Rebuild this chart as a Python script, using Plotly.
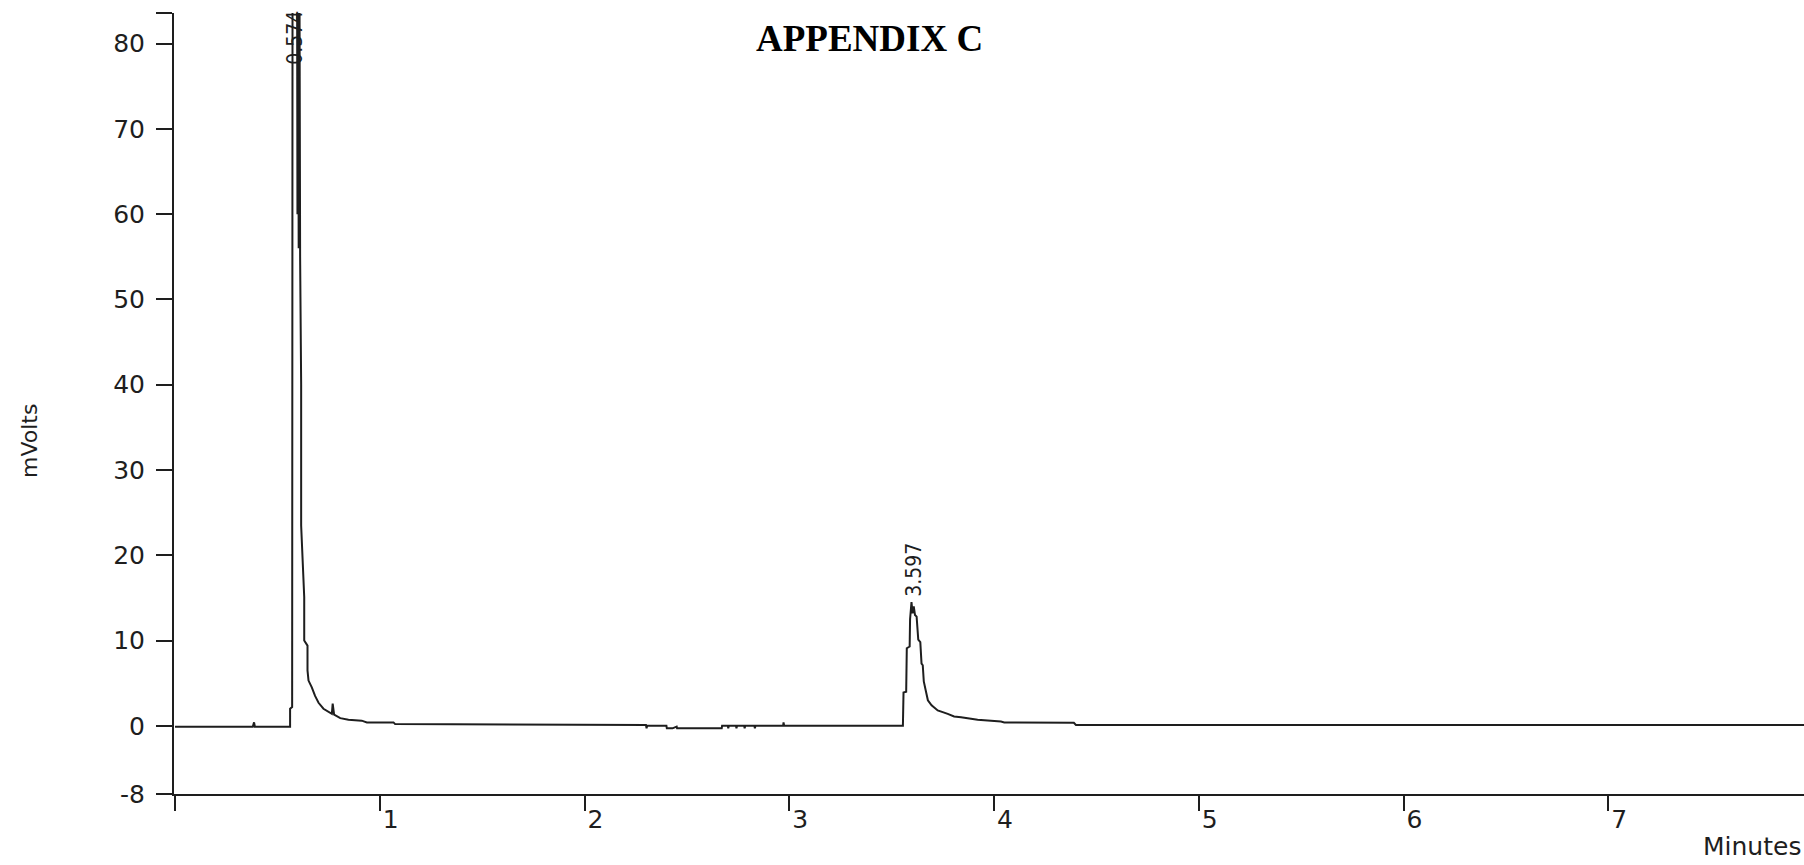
import plotly.graph_objects as go

# ---- data ----
time_min = [
    0.000, 0.380, 0.386, 0.390, 0.562, 0.562, 0.572, 0.574, 0.596, 0.598,
    0.601, 0.604, 0.608, 0.611, 0.616, 0.616, 0.624, 0.631, 0.631, 0.647,
    0.647, 0.652, 0.668, 0.684, 0.701, 0.725, 0.766, 0.770, 0.777, 0.807,
    0.847, 0.912, 0.937, 1.067, 1.075, 2.250, 2.300, 2.303, 2.306, 2.400,
    2.402, 2.430, 2.450, 2.452, 2.670, 2.672, 2.700, 2.702, 2.705, 2.740,
    2.742, 2.745, 2.780, 2.782, 2.785, 2.830, 2.832, 2.835, 2.970, 2.972,
    2.975, 3.555, 3.558, 3.571, 3.574, 3.588, 3.590, 3.597, 3.602, 3.608,
    3.614, 3.622, 3.630, 3.640, 3.646, 3.652, 3.657, 3.666, 3.677, 3.695,
    3.725, 3.774, 3.805, 3.839, 3.920, 4.034, 4.050, 4.390, 4.400, 8.000,
]
signal_mv = [
    -0.1, -0.1, 0.4, -0.1, -0.1, 2.0, 2.2, 90.0, 90.0, 60.0,
    88.0, 56.0, 86.0, 55.0, 40.0, 23.5, 18.0, 15.1, 10.0, 9.4,
    6.5, 5.3, 4.5, 3.5, 2.7, 2.0, 1.4, 2.6, 1.3, 0.9,
    0.7, 0.6, 0.4, 0.4, 0.2, 0.1, 0.1, -0.3, 0.0, 0.0,
    -0.3, -0.3, -0.1, -0.3, -0.3, 0.0, 0.0, -0.3, 0.0, 0.0,
    -0.3, 0.0, 0.0, -0.3, 0.0, 0.0, -0.3, 0.0, 0.0, 0.4,
    0.0, 0.0, 3.9, 4.0, 9.1, 9.3, 12.5, 14.5, 13.2, 14.0,
    13.0, 12.8, 10.1, 9.8, 7.3, 7.1, 5.2, 4.2, 3.0, 2.4,
    1.8, 1.4, 1.1, 1.0, 0.7, 0.5, 0.4, 0.35, 0.1, 0.1,
]

peak_times = [0.574, 3.597]
peak_labels = ["0.574", "3.597"]
peak_label_y = [77.0, 14.6]

y_tickvals = [-8, 0, 10, 20, 30, 40, 50, 60, 70, 80, 83.6]
y_ticktext = ["-8", "0", "10", "20", "30", "40", "50", "60", "70", "80", ""]
x_tickvals = [0, 1, 2, 3, 4, 5, 6, 7]
x_ticktext = ["", "1", "2", "3", "4", "5", "6", "7"]

INK = "#1e1e1e"
TICKFONT = dict(family="DejaVu Sans", size=25, color=INK)

fig = go.Figure()
fig.add_trace(go.Scatter(
    x=time_min, y=signal_mv, mode="lines",
    line=dict(color=INK, width=2), hoverinfo="skip", showlegend=False,
))

# peak retention-time labels
for t, lab, yl in zip(peak_times, peak_labels, peak_label_y):
    fig.add_annotation(
        x=t, y=yl, xref="x", yref="y", text=lab, showarrow=False,
        textangle=-90, xanchor="center", yanchor="bottom", xshift=3, yshift=2,
        font=dict(family="Liberation Sans Narrow, DejaVu Sans Condensed, Liberation Sans", size=21, color=INK),
    )

# title
fig.add_annotation(
    x=0.4265, y=0.967, xref="paper", yref="paper", text="<b>APPENDIX C</b>",
    showarrow=False, xanchor="center", yanchor="middle",
    font=dict(family="Liberation Serif", size=37, color="#000000"),
)
# axis titles
fig.add_annotation(
    x=0, y=0.452, xref="paper", yref="paper", text="mVolts", showarrow=False,
    textangle=-90, xanchor="center", yanchor="middle", xshift=-144,
    font=dict(family="DejaVu Sans", size=22, color=INK),
)
fig.add_annotation(
    x=1, y=0, xref="paper", yref="paper", text="Minutes", showarrow=False,
    xanchor="right", yanchor="bottom", xshift=-1, yshift=-69,
    font=dict(family="DejaVu Sans", size=25, color=INK),
)

fig.update_xaxes(
    range=[-0.005, 7.956], tickmode="array", tickvals=x_tickvals, ticktext=x_ticktext,
    ticks="outside", ticklen=15, tickwidth=2, tickcolor=INK,
    showline=True, linewidth=2, linecolor=INK, showgrid=False, zeroline=False,
    tickfont=TICKFONT, ticklabelshift=11, ticklabelstandoff=-13,
)
fig.update_yaxes(
    range=[-8, 83.6], tickmode="array", tickvals=y_tickvals, ticktext=y_ticktext,
    ticks="outside", ticklen=16, tickwidth=2, tickcolor=INK,
    showline=True, linewidth=2, linecolor=INK, showgrid=False, zeroline=False,
    tickfont=TICKFONT, ticklabelstandoff=6,
)
fig.update_layout(
    width=1804, height=865,
    margin=dict(l=174, r=0, t=13, b=71),
    plot_bgcolor="white", paper_bgcolor="white",
    showlegend=False,
)

fig.write_html("out.html")
